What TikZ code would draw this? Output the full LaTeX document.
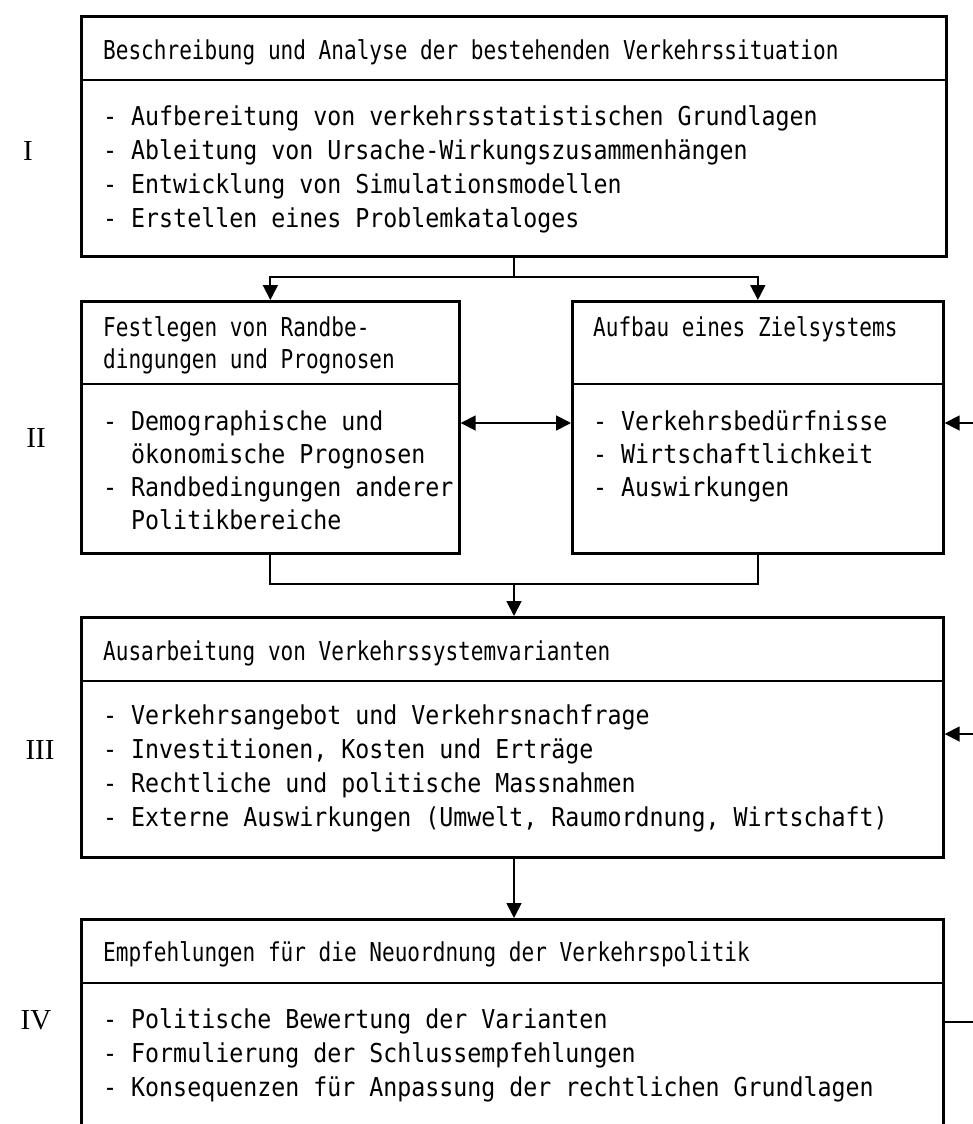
\documentclass[tikz,border=0pt]{standalone}
\usepackage{fontspec}
\newfontfamily\tw[FakeStretch=0.895]{DejaVu Sans Mono}
\newfontfamily\twt[FakeStretch=0.81]{DejaVu Sans Mono}
\newfontfamily\rn{Liberation Serif}
\usetikzlibrary{arrows.meta}
\tikzset{
  box/.style={draw, line width=2.7pt, inner sep=0pt, anchor=north west},
  txt/.style={anchor=base west, inner sep=0pt, font=\tw\fontsize{26}{34}\selectfont},
  ttl/.style={anchor=base west, inner sep=0pt, font=\twt\fontsize{26}{34}\selectfont},
  lbl/.style={anchor=base, inner sep=0pt, font=\rn\fontsize{29}{29}\selectfont},
  conn/.style={line width=1.8pt},
  arr/.style={line width=1.8pt, -{Triangle[length=15pt,width=15pt]}},
  darr/.style={line width=1.8pt, {Triangle[length=15pt,width=15pt]}-{Triangle[length=15pt,width=15pt]}},
  divider/.style={line width=2.7pt},
}
\begin{document}
\begin{tikzpicture}[x=1pt,y=-1pt]
\useasboundingbox (0,0) rectangle (973,1124);
\clip (0,0) rectangle (973,1124);
\fill[white] (0,0) rectangle (973,1124);

% ---------- Box I ----------
\node[box, minimum width=865pt, minimum height=240pt] (b1) at (80,15) {};
\coordinate (d1) at (0,80);
\draw[divider] (b1.west |- d1) -- (b1.east |- d1);
\node[ttl] (t1) at (103,59.5) {Beschreibung und Analyse der bestehenden Verkehrssituation};
\node[txt] (t1a) at (103,125.5) {- Aufbereitung von verkehrsstatistischen Grundlagen};
\node[txt] (t1b) at (103,159.5) {- Ableitung von Ursache-Wirkungszusammenhängen};
\node[txt] (t1c) at (103,193.5) {- Entwicklung von Simulationsmodellen};
\node[txt] (t1d) at (103,227.5) {- Erstellen eines Problemkataloges};
\node[lbl] (L1) at (28,160) {I};

% ---------- Box II (left / right) ----------
\node[box, minimum width=378pt, minimum height=252pt] (b2l) at (80,300) {};
\node[box, minimum width=371pt, minimum height=252pt] (b2r) at (571,300) {};
\coordinate (d2) at (0,384);
\draw[divider] (b2l.west |- d2) -- (b2l.east |- d2);
\draw[divider] (b2r.west |- d2) -- (b2r.east |- d2);
\node[ttl] (t2a) at (103,336.5) {Festlegen von Randbe-};
\node[ttl] (t2b) at (103,368.5) {dingungen und Prognosen};
\node[txt] (t2c) at (103,430.5) {- Demographische und};
\node[txt] (t2d) at (103,463.5) {\ \ ökonomische Prognosen};
\node[txt] (t2e) at (103,496.5) {- Randbedingungen anderer};
\node[txt] (t2f) at (103,529.5) {\ \ Politikbereiche};
\node[ttl] (t2g) at (593,336.5) {Aufbau eines Zielsystems};
\node[txt] (t2h) at (593,430.5) {- Verkehrsbedürfnisse};
\node[txt] (t2i) at (593,463.5) {- Wirtschaftlichkeit};
\node[txt] (t2j) at (593,496.5) {- Auswirkungen};
\node[lbl] (L2) at (36,447) {II};

% ---------- Box III ----------
\node[box, minimum width=862pt, minimum height=240pt] (b3) at (80,616) {};
\coordinate (d3) at (0,681);
\draw[divider] (b3.west |- d3) -- (b3.east |- d3);
\node[ttl] (t3) at (103,660.5) {Ausarbeitung von Verkehrssystemvarianten};
\node[txt] (t3a) at (103,724.5) {- Verkehrsangebot und Verkehrsnachfrage};
\node[txt] (t3b) at (103,758.5) {- Investitionen, Kosten und Erträge};
\node[txt] (t3c) at (103,792.5) {- Rechtliche und politische Massnahmen};
\node[txt] (t3d) at (103,826.5) {- Externe Auswirkungen (Umwelt, Raumordnung, Wirtschaft)};
\node[lbl] (L3) at (40,759) {III};

% ---------- Box IV (runs past the lower edge) ----------
\node[box, minimum width=862pt, minimum height=260pt] (b4) at (80,918) {};
\coordinate (d4) at (0,983);
\draw[divider] (b4.west |- d4) -- (b4.east |- d4);
\node[ttl] (t4) at (103,961.5) {Empfehlungen für die Neuordnung der Verkehrspolitik};
\node[txt] (t4a) at (103,1028.5) {- Politische Bewertung der Varianten};
\node[txt] (t4b) at (103,1062.5) {- Formulierung der Schlussempfehlungen};
\node[txt] (t4c) at (103,1096.5) {- Konsequenzen für Anpassung der rechtlichen Grundlagen};
\node[lbl] (L4) at (36,1029) {IV};

% ---------- Connectors ----------
\coordinate (j1) at (514,277);
\draw[conn] (b1.south -| j1) -- (j1);
\draw[arr] (j1) -| (b2l.north);
\draw[arr] (j1) -| (b2r.north);

\coordinate (a2) at (0,423);
\draw[darr] (b2l.east |- a2) -- (b2r.west |- a2);

\coordinate (j2) at (514,584);
\draw[conn] (b2l.south) -- (b2l.south |- j2) -- (b2r.south |- j2) -- (b2r.south);
\draw[arr] (j2) -- (b3.north -| j2);

\draw[arr] (b3.south -| j2) -- (b4.north -| j2);

% feedback from IV (line leaves the picture at the right edge)
\coordinate (fb) at (1000,1022);
\coordinate (a3) at (0,734);
\draw[conn] (b4.east |- fb) -- (fb) -- (fb |- a2);
\draw[arr] (fb |- a2) -- (b2r.east |- a2);
\draw[arr] (fb |- a3) -- (b3.east |- a3);
\end{tikzpicture}
\end{document}
